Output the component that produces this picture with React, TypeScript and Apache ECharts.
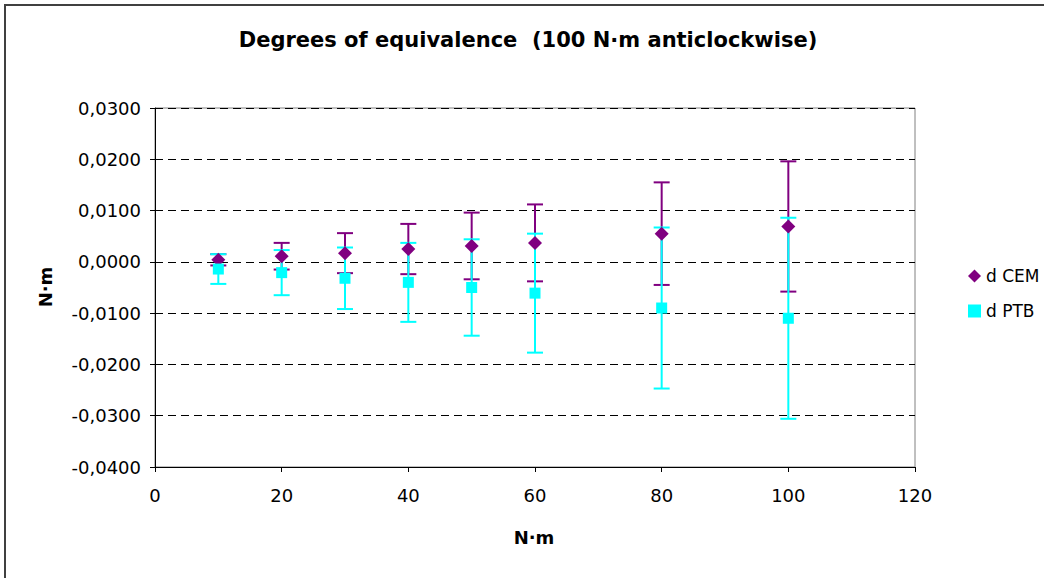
import React, { useEffect, useRef } from "react";
import * as echarts from "echarts";

const torque = [10, 20, 30, 40, 50, 60, 80, 100];
const dCEM = [0.0004, 0.0011, 0.0017, 0.0025, 0.0031, 0.0037, 0.0055, 0.0069];
const uCEM = [0.0011, 0.0026, 0.0039, 0.0049, 0.0065, 0.0075, 0.0100, 0.0127];
const dPTB = [-0.0014, -0.0021, -0.0032, -0.0040, -0.0050, -0.0061, -0.0090, -0.0110];
const uPTB = [0.0029, 0.0044, 0.0060, 0.0077, 0.0094, 0.0116, 0.0157, 0.0196];

const titleText = "Degrees of equivalence  (100 N·m anticlockwise)";
const xName = "N·m";
const yName = "N·m";
const FONT = "'DejaVu Sans', sans-serif";
const CEM_COLOR = "#800080";
const PTB_COLOR = "#00FFFF";

function errorSeries(name: string, d: number[], u: number[], color: string) {
  const data = torque.map((t, i) => [t, d[i] - u[i], d[i] + u[i]]);
  return {
    name,
    type: "custom",
    z: 2,
    renderItem: (_params: any, api: any) => {
      const x = api.value(0);
      const lo = api.coord([x, api.value(1)]);
      const hi = api.coord([x, api.value(2)]);
      const cap = 8;
      const style = { stroke: color, lineWidth: 2 };
      return {
        type: "group",
        children: [
          { type: "line", shape: { x1: lo[0], y1: lo[1], x2: hi[0], y2: hi[1] }, style },
          { type: "line", shape: { x1: lo[0] - cap, y1: lo[1], x2: lo[0] + cap, y2: lo[1] }, style },
          { type: "line", shape: { x1: hi[0] - cap, y1: hi[1], x2: hi[0] + cap, y2: hi[1] }, style },
        ],
      };
    },
    encode: { x: 0, y: [1, 2] },
    data,
  };
}

export default function App() {
  const ref = useRef<HTMLDivElement>(null);
  useEffect(() => {
    if (!ref.current) return;
    const chart = echarts.init(ref.current, null, { renderer: "svg" });
    const fmt = (v: number) => (Math.abs(v) < 1e-9 ? 0 : v).toFixed(4).replace(".", ",");
    chart.setOption({
      animation: false,
      backgroundColor: "#ffffff",
      textStyle: { fontFamily: FONT },
      grid: {
        left: 155,
        top: 108,
        width: 760,
        height: 359,
        show: true,
        borderColor: "#808080",
        borderWidth: 1,
      },
      legend: {
        orient: "vertical",
        left: 963,
        top: 262,
        itemWidth: 13,
        itemHeight: 13,
        itemGap: 17,
        data: [
          { name: "d CEM", icon: "diamond" },
          { name: "d PTB", icon: "rect" },
        ],
        textStyle: { fontFamily: FONT, fontSize: 17, color: "#000", lineHeight: 18 },
      },
      xAxis: {
        type: "value",
        min: 0,
        max: 120,
        interval: 20,
        axisLine: { show: true, onZero: false, lineStyle: { color: "#000", width: 1 } },
        axisTick: { show: true, length: 5, lineStyle: { color: "#000" } },
        axisLabel: { color: "#000", fontSize: 18, fontFamily: FONT, margin: 19 },
        splitLine: { show: false },
      },
      yAxis: {
        type: "value",
        min: -0.04,
        max: 0.03,
        interval: 0.01,
        axisLine: { show: true, lineStyle: { color: "#000", width: 1 } },
        axisTick: { show: true, length: 5, lineStyle: { color: "#000" } },
        axisLabel: { color: "#000", fontSize: 18, fontFamily: FONT, margin: 14, formatter: fmt },
        splitLine: { show: true, lineStyle: { color: "#000", type: [8, 5], width: 1 } },
      },
      graphic: [
        {
          type: "rect",
          shape: { x: 5, y: 5, width: 1200, height: 800 },
          style: { fill: "none", stroke: "#404040", lineWidth: 2 },
          silent: true,
        },
        {
          type: "text",
          x: 528,
          y: 40,
          style: {
            text: titleText,
            fill: "#000",
            font: `bold 21px ${FONT}`,
            textAlign: "center",
            textVerticalAlign: "middle",
          },
        },
        {
          type: "text",
          x: 534,
          y: 537,
          style: {
            text: xName,
            fill: "#000",
            font: `bold 18px ${FONT}`,
            textAlign: "center",
            textVerticalAlign: "middle",
          },
        },
        {
          type: "text",
          x: 45,
          y: 287,
          rotation: Math.PI / 2,
          style: {
            text: yName,
            fill: "#000",
            font: `bold 18px ${FONT}`,
            textAlign: "center",
            textVerticalAlign: "middle",
          },
        },
      ],
      series: [
        errorSeries("errCEM", dCEM, uCEM, CEM_COLOR),
        errorSeries("errPTB", dPTB, uPTB, PTB_COLOR),
        {
          name: "d CEM",
          type: "scatter",
          symbol: "diamond",
          symbolSize: [14, 14],
          z: 3,
          itemStyle: { color: CEM_COLOR, opacity: 1 },
          data: torque.map((t, i) => [t, dCEM[i]]),
        },
        {
          name: "d PTB",
          type: "scatter",
          symbol: "rect",
          symbolSize: [11, 11],
          z: 3,
          itemStyle: { color: PTB_COLOR, opacity: 1 },
          data: torque.map((t, i) => [t, dPTB[i]]),
        },
      ],
    });
    return () => chart.dispose();
  }, []);
  return (
    <div
      ref={ref}
      style={{ position: "fixed", left: 0, top: 0, width: 1044, height: 578 }}
    />
  );
}
